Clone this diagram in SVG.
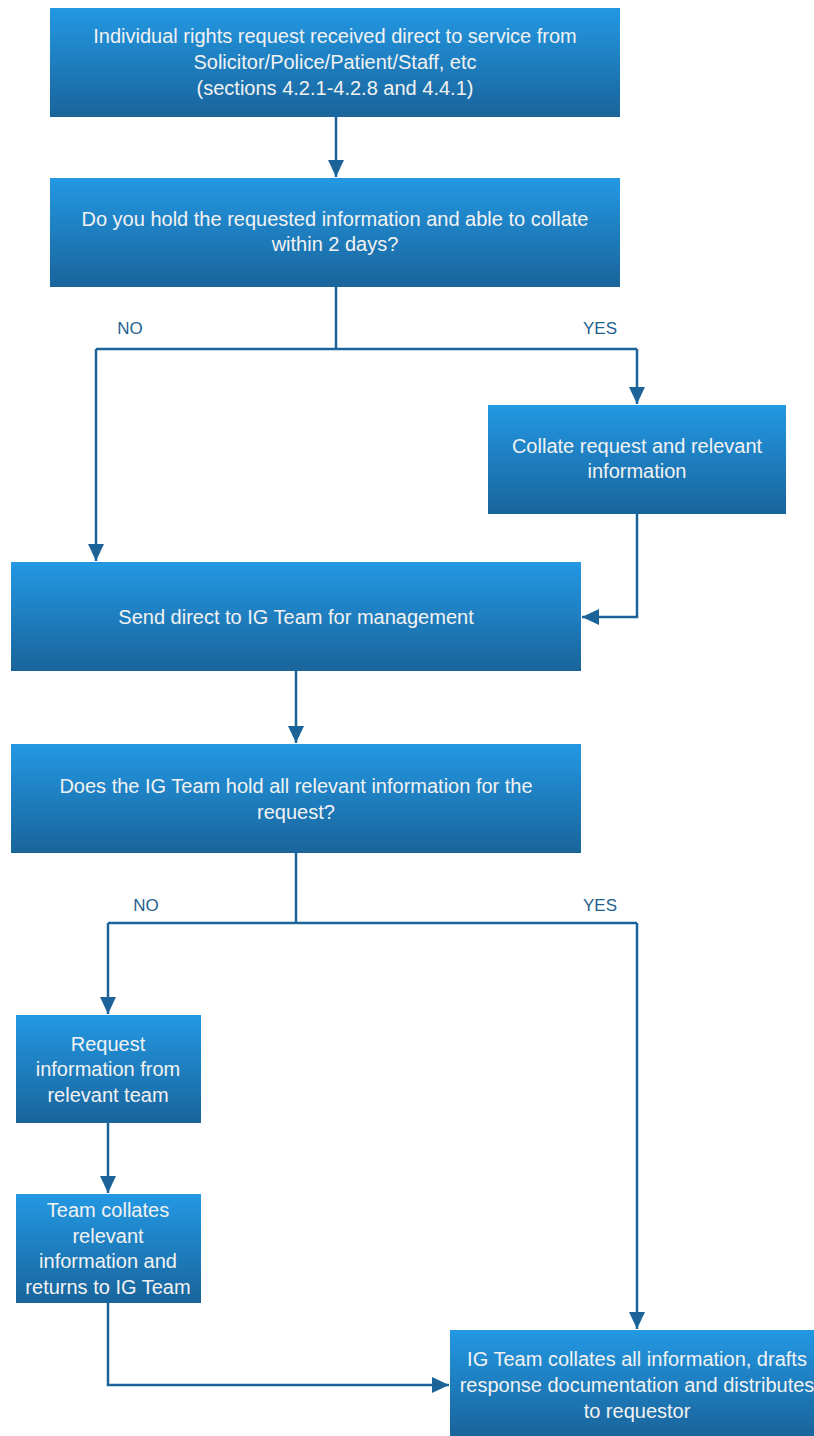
<svg xmlns="http://www.w3.org/2000/svg" width="814" height="1436" viewBox="0 0 814 1436">
<defs>
<linearGradient id="g" x1="0" y1="0" x2="0" y2="1">
<stop offset="0" stop-color="#2398E3"/>
<stop offset="1" stop-color="#19649B"/>
</linearGradient>
<marker id="a" markerWidth="18" markerHeight="18" viewBox="0 0 18 18" refX="17" refY="9" orient="auto" markerUnits="userSpaceOnUse">
<path d="M0,1 L17,9 L0,17 Z" fill="#1B6399"/>
</marker>
</defs>
<style>
.b{fill:url(#g);}
.t{font-family:"Liberation Sans",Arial,sans-serif;font-size:20px;fill:#F2F2F2;text-anchor:middle;}
.l{font-family:"Liberation Sans",Arial,sans-serif;font-size:17px;fill:#1F5F8F;text-anchor:middle;}
.c{fill:none;stroke:#1B6399;stroke-width:2.5;}
</style>
<rect width="814" height="1436" fill="#FFFFFF"/>
<g id="connectors">
<path class="c" d="M336,117 V177" marker-end="url(#a)"/>
<path class="c" d="M336,287 V349 M96,349 H637"/>
<path class="c" d="M96,349 V561" marker-end="url(#a)"/>
<path class="c" d="M637,349 V404" marker-end="url(#a)"/>
<path class="c" d="M637,514 V617 H582" marker-end="url(#a)"/>
<path class="c" d="M296,671 V743" marker-end="url(#a)"/>
<path class="c" d="M296,853 V923 M108,923 H637"/>
<path class="c" d="M108,923 V1014" marker-end="url(#a)"/>
<path class="c" d="M637,923 V1329" marker-end="url(#a)"/>
<path class="c" d="M108,1123 V1193" marker-end="url(#a)"/>
<path class="c" d="M108,1303 V1385 H449" marker-end="url(#a)"/>
<text class="l" x="130" y="334">NO</text>
<text class="l" x="600" y="334">YES</text>
<text class="l" x="146" y="911">NO</text>
<text class="l" x="600" y="911">YES</text>
</g>
<g id="n1">
<rect class="b" x="50" y="8" width="570" height="109"/>
<text class="t" x="335" y="43">Individual rights request received direct to service from</text>
<text class="t" x="335" y="69">Solicitor/Police/Patient/Staff, etc</text>
<text class="t" x="335" y="95">(sections 4.2.1-4.2.8 and 4.4.1)</text>
</g>
<g id="n2">
<rect class="b" x="50" y="178" width="570" height="109"/>
<text class="t" x="335" y="226">Do you hold the requested information and able to collate</text>
<text class="t" x="335" y="251">within 2 days?</text>
</g>
<g id="n3">
<rect class="b" x="488" y="405" width="298" height="109"/>
<text class="t" x="637" y="453">Collate request and relevant</text>
<text class="t" x="637" y="478">information</text>
</g>
<g id="n4">
<rect class="b" x="11" y="562" width="570" height="109"/>
<text class="t" x="296" y="624">Send direct to IG Team for management</text>
</g>
<g id="n5">
<rect class="b" x="11" y="744" width="570" height="109"/>
<text class="t" x="296" y="793">Does the IG Team hold all relevant information for the</text>
<text class="t" x="296" y="819">request?</text>
</g>
<g id="n6">
<rect class="b" x="16" y="1015" width="185" height="108"/>
<text class="t" x="108" y="1051">Request</text>
<text class="t" x="108" y="1076">information from</text>
<text class="t" x="108" y="1102">relevant team</text>
</g>
<g id="n7">
<rect class="b" x="16" y="1194" width="185" height="109"/>
<text class="t" x="108" y="1217">Team collates</text>
<text class="t" x="108" y="1243">relevant</text>
<text class="t" x="108" y="1268">information and</text>
<text class="t" x="108" y="1294">returns to IG Team</text>
</g>
<g id="n8">
<rect class="b" x="450" y="1330" width="374" height="106"/>
<text class="t" x="637" y="1366">IG Team collates all information, drafts</text>
<text class="t" x="637" y="1392">response documentation and distributes</text>
<text class="t" x="637" y="1418">to requestor</text>
</g>
</svg>
